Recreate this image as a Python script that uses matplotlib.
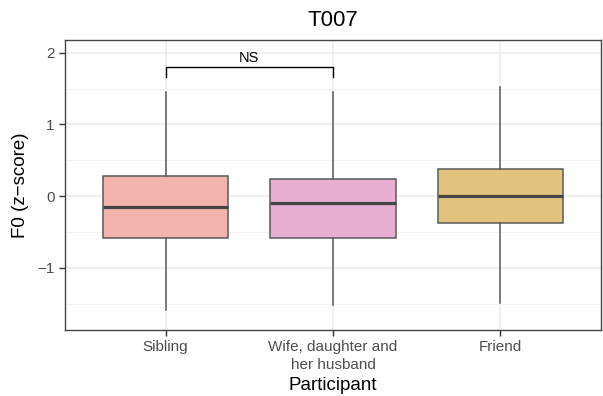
import matplotlib.pyplot as plt
from matplotlib.ticker import MultipleLocator

plt.rcParams["font.family"] = ["Liberation Sans", "DejaVu Sans"]

# F0 summary per participant group (z-scores)
groups = ["Sibling", "Wife, daughter and\nher husband", "Friend"]
whislo = [-1.59, -1.52, -1.49]
q1 = [-0.58, -0.58, -0.38]
med = [-0.15, -0.10, 0.00]
q3 = [0.28, 0.24, 0.38]
whishi = [1.46, 1.46, 1.52]
fills = ["#F4B4AE", "#E8AFD3", "#E2C47F"]

bracket_y = 1.80
bracket_drop = 0.13

stats = [
    {"whislo": lo, "q1": a, "med": m, "q3": b, "whishi": hi, "fliers": []}
    for lo, a, m, b, hi in zip(whislo, q1, med, q3, whishi)
]

fig = plt.figure(figsize=(6.03, 3.96), dpi=100)
ax = fig.add_axes([65 / 603, 1 - 330 / 396, 536 / 603, 290 / 396])

edge = "#595959"
bp = ax.bxp(
    stats, positions=[1, 2, 3], widths=0.75, patch_artist=True,
    showcaps=False,
    boxprops=dict(edgecolor=edge, linewidth=1.1),
    whiskerprops=dict(color=edge, linewidth=1.1),
    medianprops=dict(color="#454545", linewidth=2.3),
    zorder=3,
)
for patch, c in zip(bp["boxes"], fills):
    patch.set_facecolor(c)

# NS bracket between first two groups
ax.plot([1, 1, 2, 2], [bracket_y - bracket_drop, bracket_y, bracket_y, bracket_y - bracket_drop],
        color="black", linewidth=1.0, zorder=4)
ax.text(1.5, bracket_y + 0.03, "NS", ha="center", va="bottom", fontsize=10.5, color="black")

ax.set_xlim(0.4, 3.6)
ax.set_ylim(-1.87, 2.18)
ax.yaxis.set_minor_locator(MultipleLocator(0.5))
ax.set_xticks([1, 2, 3])
ax.set_xticklabels(groups, fontsize=11, color="#4D4D4D", linespacing=1.3)
ax.set_yticks([-1, 0, 1, 2])
ax.set_yticklabels(["\u22121", "0", "1", "2"], fontsize=11, color="#4D4D4D")

ax.grid(which="major", color="#EBEBEB", linewidth=1.1, zorder=0)
ax.grid(which="minor", axis="y", color="#F3F3F3", linewidth=0.6, zorder=0)
ax.set_axisbelow(True)
ax.tick_params(which="major", length=4, color="#333333", width=1.0)
ax.tick_params(which="minor", length=0)
for s in ax.spines.values():
    s.set_color("#444444")
    s.set_linewidth(1.0)

ax.set_xlabel("Participant", fontsize=13.5, labelpad=4)
ax.set_ylabel("F0 (z\u2212score)", fontsize=13.5, labelpad=6)
ax.set_title("T007", fontsize=16, pad=10)

fig.savefig("out.png", dpi=100)
